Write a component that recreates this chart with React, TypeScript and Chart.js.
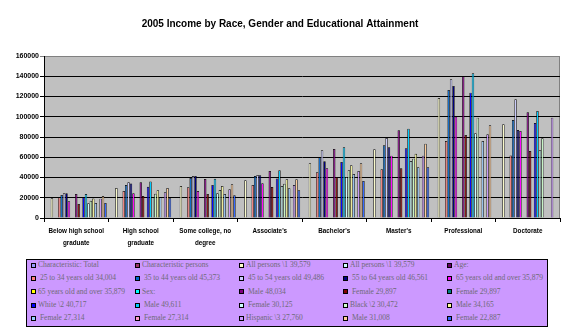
import React, { useEffect, useRef } from "react";
import { Chart, registerables } from "chart.js";

Chart.register(...registerables);

// ---- Data ----
const categories: (string | string[])[] = [
  ["Below high school", "graduate"],
  ["High school", "graduate"],
  ["Some college, no", "degree"],
  "Associate's",
  "Bachelor's",
  "Master's",
  "Professional",
  "Doctorate",
];

const yTicks = [0, 20000, 40000, 60000, 80000, 100000, 120000, 140000, 160000];

const characteristicTotal = [null, null, null, null, null, null, null, null];
const characteristicPersons = [null, null, null, null, null, null, null, null];
const allPersons = [19500, 29600, 31600, 37200, 54000, 67800, 118500, 92500];
const allPersonsDup = [null, null, null, null, null, null, null, null];
const ageHeader = [null, null, null, null, null, null, null, null];
const age25to34 = [20500, 26700, 30400, 32600, 45100, 48100, 76000, 61800];
const age35to44 = [22700, 32600, 39500, 41500, 60000, 71800, 126400, 96800];
const age45to54 = [24500, 35200, 41500, 42500, 66900, 79000, 137000, 117200];
const age55to64 = [24400, 34000, 41500, 42200, 56000, 69800, 130400, 86900];
const age65plus = [16600, 24400, 26700, 34300, 49100, 61600, 100100, 85900];
const age65plusDup = [null, null, null, null, null, null, null, null];
const sexHeader = [null, null, null, null, null, null, null, null];
const male = [23700, 35200, 38500, 46400, 68200, 86600, 140000, 104400];
const female = [13800, 21700, 23700, 30600, 40500, 49100, 82000, 66200];
const femaleDup = [null, null, null, null, null, null, null, null];
const white = [20400, 30900, 32600, 39000, 55300, 68800, 123800, 93800];
const whiteMale = [23700, 36000, 38800, 47100, 69800, 88200, 142900, 105700];
const whiteFemale = [14500, 20500, 24400, 31500, 40400, 56300, 83600, 66900];
const black = [17000, 24000, 27700, 33900, 47200, 58600, 99100, 78700];
const blackMale = [19300, 27300, 31600, 38300, 52100, 63500, null, null];
const blackFemale = [14700, 20500, 23700, 29300, 43500, 50100, 76000, null];
const blackFemaleDup = [null, null, null, null, null, null, null, null];
const hispanic = [19100, 25400, 28300, 32500, 46400, 61600, 82600, 99100];
const hispanicMale = [21700, 29600, 33300, 38300, 54000, 73400, 91500, null];
const hispanicFemale = [14800, 19500, 22400, 27300, 36500, 50100, null, null];

const seriesLabels = [
  "Characteristic: Total",
  "Characteristic persons",
  "All persons \\1 39,579",
  "All persons \\1 39,579",
  "Age:",
  " 25 to 34 years old 34,004",
  " 35 to 44 years old 45,373",
  " 45 to 54 years old 49,486",
  " 55 to 64 years old 46,561",
  " 65 years old and over 35,879",
  "65 years old and over 35,879",
  "Sex:",
  " Male 48,034",
  " Female 29,897",
  " Female 29,897",
  "White \\2 40,717",
  " Male 49,611",
  " Female 30,125",
  "Black \\2 30,472",
  " Male 34,165",
  " Female 27,314",
  " Female 27,314",
  "Hispanic \\3 27,760",
  " Male 31,008",
  " Female 22,887",
];

const seriesColors = [
  "#9999FF", "#993366", "#FFFFCC", "#CCFFFF", "#660066",
  "#FF8080", "#0066CC", "#CCCCFF", "#000080", "#FF00FF",
  "#FFFF00", "#00FFFF", "#800080", "#800000", "#008080",
  "#0000FF", "#00CCFF", "#CCFFFF", "#CCFFCC", "#FFFF99",
  "#99CCFF", "#FF99CC", "#CC99FF", "#FFCC99", "#3366FF",
];

const seriesData = [
  characteristicTotal, characteristicPersons, allPersons, allPersonsDup, ageHeader,
  age25to34, age35to44, age45to54, age55to64, age65plus,
  age65plusDup, sexHeader, male, female, femaleDup,
  white, whiteMale, whiteFemale, black, blackMale,
  blackFemale, blackFemaleDup, hispanic, hispanicMale, hispanicFemale,
];

const plotBackground = {
  id: "plotBackground",
  beforeDraw(chart: any) {
    const { ctx, chartArea: a } = chart;
    ctx.save();
    ctx.fillStyle = "#C0C0C0";
    ctx.fillRect(a.left, a.top, a.right - a.left, a.bottom - a.top);
    ctx.strokeStyle = "#808080";
    ctx.lineWidth = 1;
    ctx.beginPath();
    ctx.moveTo(a.left, a.top + 0.5);
    ctx.lineTo(a.right - 0.5, a.top + 0.5);
    ctx.lineTo(a.right - 0.5, a.bottom);
    ctx.stroke();
    ctx.restore();
  },
};

export default function App() {
  const canvasRef = useRef<HTMLCanvasElement | null>(null);

  useEffect(() => {
    if (!canvasRef.current) return;
    const chart = new Chart(canvasRef.current, {
      type: "bar",
      data: {
        labels: categories as any,
        datasets: seriesData.map((d, i) => ({
          label: seriesLabels[i],
          data: d as any,
          backgroundColor: seriesColors[i],
          borderColor: "#000000",
          borderWidth: 0.7,
          categoryPercentage: 25 / 26.5,
          barPercentage: 1,
        })),
      },
      options: {
        responsive: false,
        maintainAspectRatio: false,
        animation: false,
        layout: { padding: { left: 0, right: 16, top: 0, bottom: 78 } },
        plugins: {
          legend: { display: false },
          tooltip: { enabled: false },
          title: {
            display: true,
            text: "2005 Income by Race, Gender and Educational Attainment",
            color: "#000",
            font: { family: "'Liberation Sans', Arial, sans-serif", size: 10, weight: "bold", lineHeight: 1.2 },
            padding: { top: 18, bottom: 26 },
          },
        },
        scales: {
          x: {
            grid: {
              display: true,
              drawOnChartArea: false,
              drawTicks: true,
              tickLength: 4,
              color: "#000",
              offset: true,
            },
            border: { display: true, color: "#000" },
            ticks: {
              color: "#000",
              font: { family: "'Liberation Sans', Arial, sans-serif", size: 6.3, weight: "bold", lineHeight: 1.9 },
              padding: 3,
              maxRotation: 0,
              autoSkip: false,
            },
            afterFit: (s: any) => {
              s.height = 40;
            },
          },
          y: {
            min: 0,
            max: 160000,
            afterBuildTicks: (s: any) => {
              s.ticks = yTicks.map((v) => ({ value: v }));
            },
            grid: {
              color: (c: any) => (c.tick && c.tick.value === 160000 ? "#808080" : "#000"),
              lineWidth: 1,
              drawTicks: true,
              tickLength: 4,
            },
            border: { display: true, color: "#000" },
            ticks: {
              color: "#000",
              font: { family: "'Liberation Sans', Arial, sans-serif", size: 7, weight: "bold" },
              padding: 1,
              callback: (v: any) => String(v),
            },
            afterFit: (s: any) => {
              s.width = 44;
            },
          },
        },
      },
      plugins: [plotBackground],
    });
    return () => chart.destroy();
  }, []);

  return (
    <div style={{ position: "absolute", left: 0, top: 0, width: 576, height: 336, background: "#fff" }}>
      <canvas ref={canvasRef} width={576} height={336} style={{ display: "block", width: 576, height: 336 }} />
      <div
        style={{
          position: "absolute",
          left: 26,
          top: 259,
          width: 522,
          height: 68,
          boxSizing: "border-box",
          border: "1px solid #000",
          background: "#CC99FF",
          overflow: "hidden",
        }}
      >
        <div
          style={{
            display: "grid",
            gridTemplateColumns: "repeat(5, 104px)",
            gridAutoRows: "13.3px",
            paddingLeft: 4,
            marginTop: -1.5,
            alignItems: "center",
          }}
        >
          {seriesLabels.map((lab, i) => (
            <div key={i} style={{ display: "flex", alignItems: "center", whiteSpace: "pre", overflow: "visible" }}>
              <span
                style={{
                  display: "inline-block",
                  width: 5,
                  height: 5,
                  boxSizing: "border-box",
                  border: "1px solid #000",
                  background: seriesColors[i],
                  marginRight: 2,
                  flex: "none",
                }}
              />
              <span
                style={{
                  fontFamily: "'Liberation Serif', 'Times New Roman', serif",
                  fontSize: 7.5,
                  color: "#6F6A78",
                  lineHeight: "10px",
                }}
              >
                {lab}
              </span>
            </div>
          ))}
        </div>
      </div>
    </div>
  );
}
